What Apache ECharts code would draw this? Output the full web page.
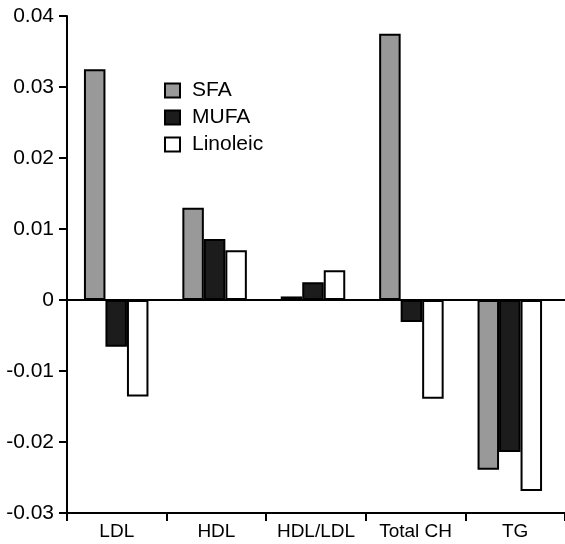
<!DOCTYPE html>
<html>
<head>
<meta charset="utf-8">
<script src="https://cdn.jsdelivr.net/npm/echarts@6/dist/echarts.min.js"></script>
<style>
html,body{margin:0;padding:0;background:#fff;}
#chart{width:565px;height:544px;}
</style>
</head>
<body>
<div id="chart"></div>
<script>
const categories = ['LDL', 'HDL', 'HDL/LDL', 'Total CH', 'TG'];
const seriesNames = ['SFA', 'MUFA', 'Linoleic'];
const sfa = [0.0325, 0.0130, 0.0005, 0.0375, -0.0239];
const mufa = [-0.0066, 0.0086, 0.0025, -0.0031, -0.0214];
const linoleic = [-0.0136, 0.0070, 0.0042, -0.0139, -0.0269];
const yTickValues = [-0.03, -0.02, -0.01, 0, 0.01, 0.02, 0.03, 0.04];
const yTickLabels = ['-0.03', '-0.02', '-0.01', '0', '0.01', '0.02', '0.03', '0.04'];

const colors = ['#999999', '#1c1c1c', '#ffffff'];
const dataSets = [sfa, mufa, linoleic];
const FONT = 'Liberation Sans, Arial, Helvetica, sans-serif';

function yLabel(v) {
  let best = 0, bd = Infinity;
  yTickValues.forEach((t, i) => { const d = Math.abs(t - v); if (d < bd) { bd = d; best = i; } });
  return yTickLabels[best];
}

const chart = echarts.init(document.getElementById('chart'), null, {renderer: 'canvas'});
chart.setOption({
  animation: false,
  backgroundColor: '#ffffff',
  grid: [
    {left: 67, top: 16, width: 492, height: 497, containLabel: false},
    {left: 67, top: 16, width: 500, height: 497, containLabel: false}
  ],
  legend: {
    orient: 'vertical',
    left: 159,
    top: 75,
    itemWidth: 15,
    itemHeight: 14,
    itemGap: 6,
    icon: 'rect',
    data: seriesNames,
    textStyle: {fontSize: 21, color: '#000', fontFamily: FONT, padding: [0, 0, 0, 7]}
  },
  xAxis: [
    {
      type: 'category', gridIndex: 0, data: categories,
      axisLine: {show: false}, axisTick: {show: false}, axisLabel: {show: false}
    },
    {
      type: 'category', gridIndex: 1, data: categories, position: 'bottom',
      axisLine: {show: true, onZero: false, lineStyle: {color: '#000', width: 2}},
      axisTick: {show: true, interval: 0, length: 8, lineStyle: {color: '#000', width: 2}},
      axisLabel: {show: true, interval: 0, hideOverlap: false, fontSize: 19, color: '#000', fontFamily: FONT, margin: 9}
    },
    {
      type: 'category', gridIndex: 1, data: categories, position: 'top',
      axisLine: {show: true, onZero: true, lineStyle: {color: '#000', width: 2}},
      axisTick: {show: false}, axisLabel: {show: false}
    }
  ],
  yAxis: [
    {
      type: 'value', gridIndex: 0, min: -0.03, max: 0.04, interval: 0.01,
      axisLine: {show: true, lineStyle: {color: '#000', width: 2}},
      axisTick: {show: true, length: 8, lineStyle: {color: '#000', width: 2}},
      axisLabel: {fontSize: 21, color: '#000', fontFamily: FONT, margin: 13, formatter: yLabel},
      splitLine: {show: false}
    },
    {
      type: 'value', gridIndex: 1, min: -0.03, max: 0.04, interval: 0.01, show: false,
      splitLine: {show: false}
    }
  ],
  series: seriesNames.map((name, i) => ({
    name: name,
    type: 'bar',
    xAxisIndex: 0,
    yAxisIndex: 0,
    data: dataSets[i],
    barWidth: 21.5,
    barGap: '0%',
    itemStyle: {color: colors[i], borderColor: '#000', borderWidth: 2}
  }))
});
</script>
</body>
</html>
